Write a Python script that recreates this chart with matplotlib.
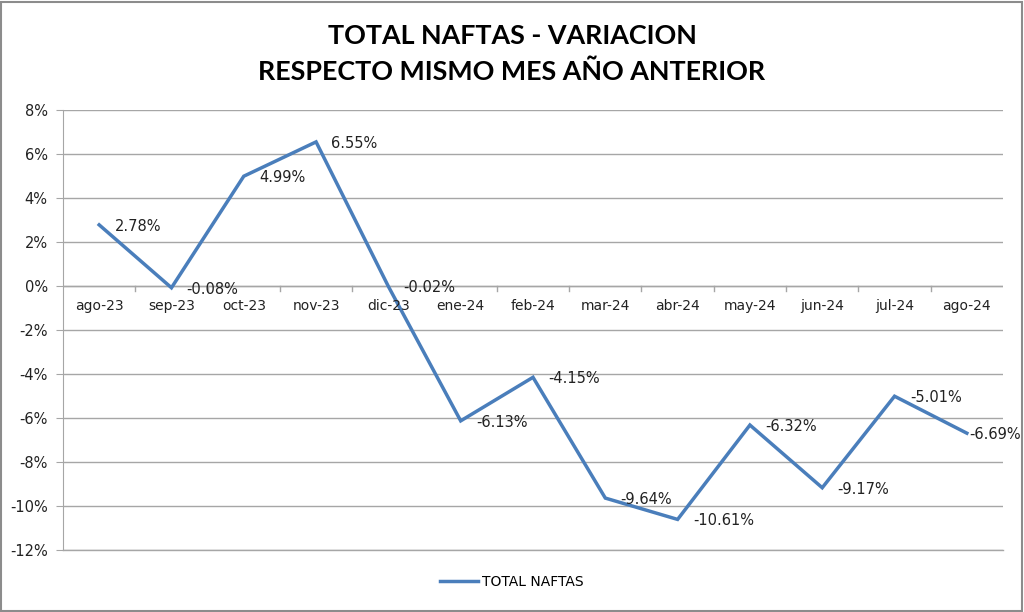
import matplotlib
matplotlib.use("Agg")
import matplotlib.pyplot as plt
from matplotlib.patches import Rectangle
from matplotlib.ticker import FuncFormatter

categories = ["ago-23", "sep-23", "oct-23", "nov-23", "dic-23", "ene-24", "feb-24",
              "mar-24", "abr-24", "may-24", "jun-24", "jul-24", "ago-24"]
values = [2.78, -0.08, 4.99, 6.55, -0.02, -6.13, -4.15, -9.64, -10.61, -6.32, -9.17, -5.01, -6.69]
series_name = "TOTAL NAFTAS"
title = "TOTAL NAFTAS - VARIACION\nRESPECTO MISMO MES AÑO ANTERIOR"

W, H = 1024, 612
fig = plt.figure(figsize=(W / 100, H / 100), dpi=100)
fig.patch.set_facecolor("white")
fig.add_artist(Rectangle((0.001, 0.002), 0.997, 0.995, transform=fig.transFigure,
                         fill=False, edgecolor="#8c8c8c", linewidth=1.5))

left, right, top, bottom = 63, 1003, 110, 550
ax = fig.add_axes([left / W, 1 - bottom / H, (right - left) / W, (bottom - top) / H])

x = list(range(len(categories)))
ax.plot(x, values, color="#4a7ebb", linewidth=2.5, label=series_name, solid_joinstyle="miter",
        zorder=3)

ax.set_xlim(-0.5, len(categories) - 0.5)
ax.set_ylim(-12, 8)
ax.set_yticks(range(-12, 9, 2))
ax.yaxis.set_major_formatter(FuncFormatter(lambda v, p: f"{int(v)}%"))
ax.grid(axis="y", color="#a6a6a6", linewidth=1)
ax.axhline(-12, color="#a6a6a6", linewidth=1, clip_on=False, zorder=1)
ax.set_axisbelow(True)
for s in ["top", "right", "bottom"]:
    ax.spines[s].set_visible(False)
ax.spines["left"].set_color("#a6a6a6")
ax.tick_params(axis="y", length=5, color="#a6a6a6", pad=6)
for t in ax.get_yticklabels():
    t.set_family("DejaVu Sans")
    t.set_fontsize(10.5)
    t.set_color("#222222")

# category axis at zero
ax.set_xticks([])
ax.axhline(0, color="#a6a6a6", linewidth=1, zorder=1)
for i in range(1, len(categories)):
    ax.plot([i - 0.5, i - 0.5], [0, -0.23], color="#a6a6a6", linewidth=1, zorder=1)
for i, c in enumerate(categories):
    ax.text(i, -0.6, c, ha="center", va="top", fontsize=10, family="DejaVu Sans", color="#222222")

n = len(values)
for i, v in enumerate(values):
    dx = 11 if i < n - 1 else 1.5
    ax.annotate(f"{v:.2f}%", (i, v), xytext=(dx, -1), textcoords="offset points",
                ha="left", va="center", fontsize=10.5, family="DejaVu Sans", color="#222222",
                annotation_clip=False)

fig.text(0.5, 1 - 54 / H, title, ha="center", va="center", fontsize=19.4, fontweight="bold",
         family="Lato", linespacing=1.55)

leg = fig.legend(loc="center", bbox_to_anchor=(0.5, 1 - 582 / H), frameon=False,
                 prop={"family": "DejaVu Sans", "size": 10}, handlelength=2.7, handletextpad=0.3)

fig.savefig("out.png", dpi=100)
